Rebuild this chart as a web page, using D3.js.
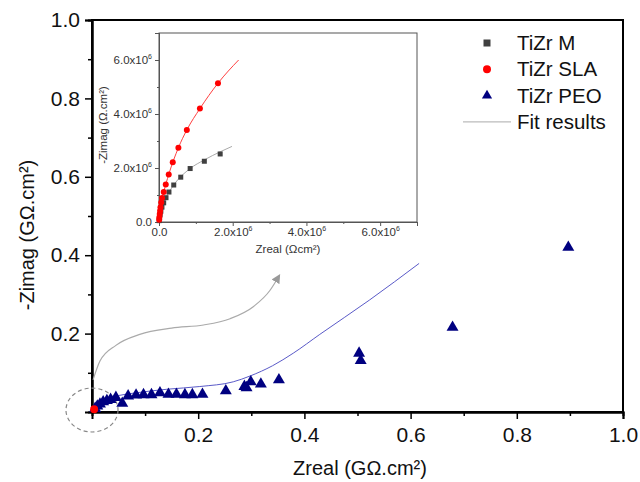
<!DOCTYPE html>
<html>
<head>
<meta charset="utf-8">
<script src="https://cdn.jsdelivr.net/npm/d3@7"></script>
<style>
  body { margin: 0; background: #fff; }
  svg { font-family: "Liberation Sans", Arial, sans-serif; }
</style>
</head>
<body>
<svg id="chart" width="640" height="482"></svg>
<script>
// main plot: TiZr PEO, values in GOhm.cm2
const peoX = [0.006, 0.010, 0.015, 0.021, 0.028, 0.035, 0.045, 0.057, 0.068, 0.083, 0.097, 0.112, 0.128, 0.144, 0.159, 0.175, 0.189, 0.208, 0.252, 0.287, 0.291, 0.299, 0.318, 0.352, 0.503, 0.506, 0.679, 0.897];
const peoY = [0.009, 0.015, 0.020, 0.026, 0.029, 0.032, 0.037, 0.022, 0.041, 0.043, 0.044, 0.044, 0.049, 0.045, 0.045, 0.044, 0.044, 0.045, 0.054, 0.065, 0.062, 0.077, 0.071, 0.082, 0.150, 0.131, 0.216, 0.420];
const peoFitX = [0.004, 0.02, 0.05, 0.078, 0.141, 0.203, 0.266, 0.298, 0.340, 0.379, 0.429, 0.523, 0.616];
const peoFitY = [0.010, 0.030, 0.042, 0.048, 0.058, 0.065, 0.077, 0.092, 0.118, 0.150, 0.198, 0.286, 0.379];
const slaMainX = [0.004];
const slaMainY = [0.007];

// inset: values in Ohm.cm2 (x1e6)
const slaX = [0.005, 0.01, 0.02, 0.03, 0.04, 0.06, 0.082, 0.128, 0.183, 0.264, 0.373, 0.526, 0.755, 1.11, 1.60];
const slaY = [0.08, 0.18, 0.30, 0.42, 0.55, 0.72, 0.89, 1.11, 1.39, 1.76, 2.21, 2.75, 3.41, 4.20, 5.14];
const slaFitX = [0, 0.005, 0.02, 0.06, 0.128, 0.264, 0.526, 0.755, 1.11, 1.60, 2.16];
const slaFitY = [0, 0.10, 0.30, 0.72, 1.11, 1.76, 2.75, 3.41, 4.20, 5.14, 6.00];
const mX = [0.005, 0.015, 0.03, 0.05, 0.08, 0.127, 0.19, 0.27, 0.40, 0.59, 0.845, 1.23, 1.66];
const mY = [0.05, 0.15, 0.28, 0.40, 0.55, 0.71, 0.90, 1.11, 1.37, 1.66, 1.98, 2.25, 2.52];
const mFitX = [0, 0.005, 0.03, 0.08, 0.19, 0.40, 0.845, 1.23, 1.66, 1.98];
const mFitY = [0, 0.05, 0.28, 0.55, 0.90, 1.37, 1.98, 2.30, 2.60, 2.80];

// annotation arrow (main data units)
const arrowX = [0.002, 0.015, 0.045, 0.09, 0.15, 0.21, 0.26, 0.305, 0.335, 0.350];
const arrowY = [0.082, 0.130, 0.170, 0.198, 0.214, 0.222, 0.238, 0.270, 0.310, 0.342];

const mainTicks = [0.2, 0.4, 0.6, 0.8, 1.0];
const mainMinor = [0.1, 0.3, 0.5, 0.7, 0.9];
const insetTicks = [0, 2, 4, 6];
const insetMinor = [1, 3, 5, 7];

const legendLabels = ["TiZr M", "TiZr SLA", "TiZr PEO", "Fit results"];

const zip = (a, b) => a.map((v, i) => [v, b[i]]);

const svg = d3.select("#chart");

// ---------- main plot ----------
const x = d3.scaleLinear().domain([0, 1]).range([92, 623]);
const y = d3.scaleLinear().domain([0, 1]).range([412, 20]);

svg.append("rect")
  .attr("x", x(0)).attr("y", y(1))
  .attr("width", x(1) - x(0)).attr("height", y(0) - y(1))
  .attr("fill", "none").attr("stroke", "#000").attr("stroke-width", 2);

const xAxis = svg.append("g")
  .attr("transform", "translate(0," + y(0) + ")")
  .call(d3.axisBottom(x).tickValues(mainTicks).tickSize(7).tickPadding(8).tickFormat(d3.format(".1f")));
const xMinor = svg.append("g")
  .attr("transform", "translate(0," + y(0) + ")")
  .call(d3.axisBottom(x).tickValues(mainMinor).tickSize(4).tickFormat(""));
const yAxis = svg.append("g")
  .attr("transform", "translate(" + x(0) + ",0)")
  .call(d3.axisLeft(y).tickValues(mainTicks).tickSize(7).tickPadding(5).tickFormat(d3.format(".1f")));
const yMinor = svg.append("g")
  .attr("transform", "translate(" + x(0) + ",0)")
  .call(d3.axisLeft(y).tickValues(mainMinor).tickSize(4).tickFormat(""));

[xAxis, xMinor, yAxis, yMinor].forEach(g => {
  g.select(".domain").attr("stroke", "#000").attr("stroke-width", 2);
  g.selectAll(".tick line").attr("stroke", "#000").attr("stroke-width", 1.5);
  g.selectAll("text").attr("font-size", 21).attr("font-family", "Liberation Sans, Arial").attr("fill", "#111");
});

svg.append("text")
  .attr("x", 360).attr("y", 475)
  .attr("text-anchor", "middle").attr("font-size", 20).attr("fill", "#111")
  .text("Zreal (GΩ.cm²)");

svg.append("text")
  .attr("transform", "translate(34,235) rotate(-90)")
  .attr("text-anchor", "middle").attr("font-size", 20).attr("fill", "#111")
  .text("-Zimag (GΩ.cm²)");

// dashed zoom circle at origin
svg.append("ellipse")
  .attr("cx", x(0)).attr("cy", y(0.005))
  .attr("rx", x(0.049) - x(0)).attr("ry", y(0) - y(0.056))
  .attr("fill", "none").attr("stroke", "#888").attr("stroke-width", 1.2)
  .attr("stroke-dasharray", "4,3");

// arrow
svg.append("defs").append("marker")
  .attr("id", "arrowhead").attr("viewBox", "0 0 10 10")
  .attr("refX", 5).attr("refY", 5)
  .attr("markerWidth", 9).attr("markerHeight", 9)
  .attr("markerUnits", "userSpaceOnUse")
  .attr("orient", "auto")
  .append("path").attr("d", "M0,0 L10,5 L0,10 Z").attr("fill", "#999");

svg.append("path")
  .datum(zip(arrowX, arrowY))
  .attr("d", d3.line().x(d => x(d[0])).y(d => y(d[1])).curve(d3.curveMonotoneX))
  .attr("fill", "none").attr("stroke", "#aaa").attr("stroke-width", 1.2)
  .attr("marker-end", "url(#arrowhead)");

// PEO fit
svg.append("path")
  .datum(zip(peoFitX, peoFitY))
  .attr("d", d3.line().x(d => x(d[0])).y(d => y(d[1])).curve(d3.curveMonotoneX))
  .attr("fill", "none").attr("stroke", "#5a5ac8").attr("stroke-width", 1);

// PEO triangles
svg.selectAll(".peo")
  .data(zip(peoX, peoY))
  .enter()
  .append("path")
  .attr("class", "peo")
  .attr("transform", d => "translate(" + x(d[0]) + "," + y(d[1]) + ")")
  .attr("d", d3.symbol().type(d3.symbolTriangle).size(62))
  .attr("fill", "#000080");

svg.selectAll(".slaMain")
  .data(zip(slaMainX, slaMainY))
  .enter()
  .append("circle")
  .attr("cx", d => x(d[0])).attr("cy", d => y(d[1]))
  .attr("r", 4).attr("fill", "#ff0000");

// ---------- inset ----------
const xi = d3.scaleLinear().domain([0, 7]).range([159, 417]);
const yi = d3.scaleLinear().domain([0, 7]).range([222, 33]);

svg.append("rect")
  .attr("x", xi(0)).attr("y", yi(7))
  .attr("width", xi(7) - xi(0)).attr("height", yi(0) - yi(7))
  .attr("fill", "#fff").attr("stroke", "#555").attr("stroke-width", 1);

function sciLabel(sel) {
  sel.each(function(d) {
    const t = d3.select(this);
    t.text(null);
    if (d === 0) { t.text("0.0"); return; }
    t.append("tspan").text(d.toFixed(1) + "x10");
    t.append("tspan").attr("font-size", 7).attr("dy", -5).text("6");
  });
}

const xiAxis = svg.append("g")
  .attr("transform", "translate(0," + yi(0) + ")")
  .call(d3.axisBottom(xi).tickValues(insetTicks).tickSize(4).tickPadding(2));
const xiMinor = svg.append("g")
  .attr("transform", "translate(0," + yi(0) + ")")
  .call(d3.axisBottom(xi).tickValues(insetMinor).tickSize(2).tickFormat(""));
const yiAxis = svg.append("g")
  .attr("transform", "translate(" + xi(0) + ",0)")
  .call(d3.axisLeft(yi).tickValues(insetTicks).tickSize(4).tickPadding(3));
const yiMinor = svg.append("g")
  .attr("transform", "translate(" + xi(0) + ",0)")
  .call(d3.axisLeft(yi).tickValues(insetMinor).tickSize(2).tickFormat(""));

[xiAxis, xiMinor, yiAxis, yiMinor].forEach(g => {
  g.select(".domain").attr("stroke", "#555").attr("stroke-width", 1);
  g.selectAll(".tick line").attr("stroke", "#555");
  g.selectAll("text").attr("font-size", 11.5).attr("font-family", "Liberation Sans, Arial").attr("fill", "#333");
});
xiAxis.selectAll(".tick text").call(sciLabel);
yiAxis.selectAll(".tick text").call(sciLabel);

svg.append("text")
  .attr("x", (xi(0) + xi(7)) / 2).attr("y", 253)
  .attr("text-anchor", "middle").attr("font-size", 11.5).attr("fill", "#333")
  .text("Zreal (Ωcm²)");

svg.append("text")
  .attr("transform", "translate(107,125) rotate(-90)")
  .attr("text-anchor", "middle").attr("font-size", 11.5).attr("fill", "#333")
  .text("-Zimag (Ω.cm²)");

const insetLine = d3.line().x(d => xi(d[0])).y(d => yi(d[1])).curve(d3.curveMonotoneX);

svg.append("path")
  .datum(zip(mFitX, mFitY))
  .attr("d", insetLine)
  .attr("fill", "none").attr("stroke", "#aaa").attr("stroke-width", 1);

svg.append("path")
  .datum(zip(slaFitX, slaFitY))
  .attr("d", insetLine)
  .attr("fill", "none").attr("stroke", "#ff4040").attr("stroke-width", 1);

svg.selectAll(".mPt")
  .data(zip(mX, mY))
  .enter()
  .append("rect")
  .attr("class", "mPt")
  .attr("x", d => xi(d[0]) - 2.5).attr("y", d => yi(d[1]) - 2.5)
  .attr("width", 5).attr("height", 5)
  .attr("fill", "#404040");

svg.selectAll(".slaPt")
  .data(zip(slaX, slaY))
  .enter()
  .append("circle")
  .attr("class", "slaPt")
  .attr("cx", d => xi(d[0])).attr("cy", d => yi(d[1]))
  .attr("r", 3).attr("fill", "#ff0000");

// ---------- legend ----------
const legend = svg.append("g").attr("transform", "translate(487,43)");
const rowH = 26.3;
legendLabels.forEach((label, i) => {
  const g = legend.append("g").attr("transform", "translate(0," + i * rowH + ")");
  if (i === 0) g.append("rect").attr("x", -3.5).attr("y", -3.5).attr("width", 7).attr("height", 7).attr("fill", "#404040");
  if (i === 1) g.append("circle").attr("r", 4).attr("fill", "#ff0000");
  if (i === 2) g.append("path").attr("d", d3.symbol().type(d3.symbolTriangle).size(45)).attr("fill", "#000080");
  if (i === 3) g.append("line").attr("x1", -24).attr("x2", 24).attr("stroke", "#bbb").attr("stroke-width", 1.2);
  g.append("text")
    .attr("x", 30).attr("dy", "0.35em")
    .attr("font-size", 20.5).attr("fill", "#111")
    .text(label);
});
</script>
</body>
</html>
